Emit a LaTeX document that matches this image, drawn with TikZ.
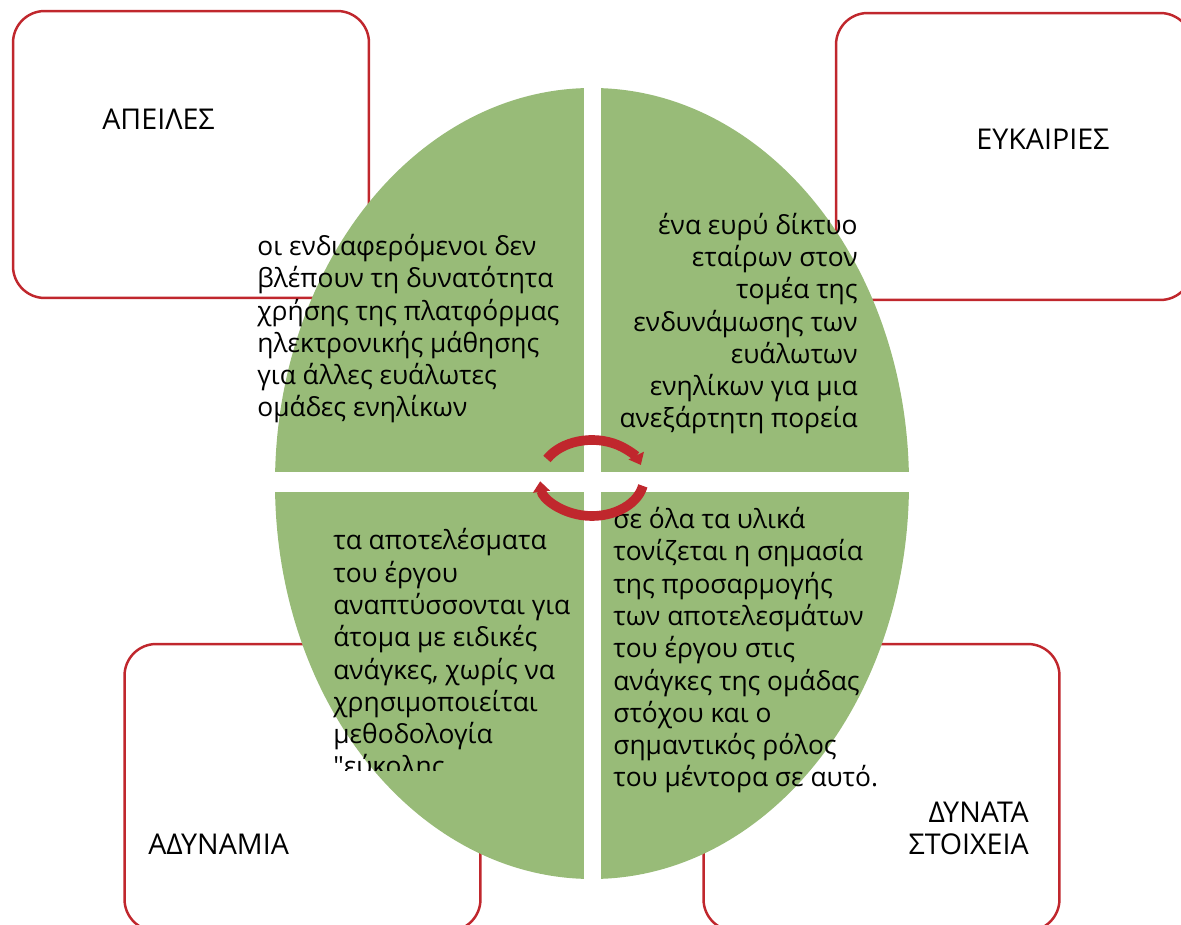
\documentclass[tikz,border=0pt]{standalone}
\usepackage{fontspec}
\setmainfont{Open Sans}
\usepackage{tikz}
\usetikzlibrary{arrows.meta}

\definecolor{swotred}{RGB}{192,39,45}
\definecolor{swotgreen}{RGB}{152,187,120}

\tikzset{
  swotbox/.style={draw=swotred, line width=1.4pt, rounded corners=18pt,
    minimum width=7.12cm, minimum height=5.74cm, inner sep=0pt},
  boxlabel/.style={font=\fontsize{16.3}{18.7}\selectfont, inner sep=0pt},
  quadtext/.style={font=\fontsize{15}{18.4}\selectfont, inner sep=0pt},
  cycarrow/.style={draw=swotred, line width=5.5pt, -{Triangle[length=6pt, width=9.5pt]}}
}

\begin{document}
\begin{tikzpicture}[x=0.02cm, y=-0.02cm]
          \useasboundingbox (0,0) rectangle (1181,925);
          \clip (0,0) rectangle (1181,925);
          % threats
          \node[swotbox] (thr) at (191,154.5) {};
          \node[boxlabel, anchor=base west] (thrlbl) at (102,130) {ΑΠΕΙΛΕΣ};
          % opportunities
          \node[swotbox] (opp) at (1014,156.5) {};
          \node[boxlabel, anchor=base west] (opplbl) at (976,150) {ΕΥΚΑΙΡΙΕΣ};
          % weaknesses
          \node[swotbox] (weak) at (302.5,787.5) {};
          \node[boxlabel, anchor=base west] (weaklbl) at (148,855) {ΑΔΥΝΑΜΙΑ};
          % strengths
          \node[swotbox] (str) at (881.5,787.5) {};
          \node[boxlabel, anchor=base east, align=right] (strlbl) at (1029,855) {ΔΥΝΑΤΑ\\ΣΤΟΙΧΕΙΑ};
          % green ellipse cut in four
          \fill[swotgreen] (592,483.5) ellipse [x radius=317, y radius=395.5];
          \fill[white] (584,80) rectangle (601,890);
          \fill[white] (260,472) rectangle (925,492);
          % quadrant texts
          \node[quadtext, anchor=base west, align=left] (thrtxt) at (257,417)
            {οι ενδιαφερόμενοι δεν\\βλέπουν τη δυνατότητα\\χρήσης της πλατφόρμας\\ηλεκτρονικής μάθησης\\για άλλες ευάλωτες\\ομάδες ενηλίκων};
          \node[quadtext, anchor=base east, align=right] (opptxt) at (858,428)
            {ένα ευρύ δίκτυο\\εταίρων στον\\τομέα της\\ενδυνάμωσης των\\ευάλωτων\\ενηλίκων για μια\\ανεξάρτητη πορεία};
          \begin{scope}
            \clip (300,500) rectangle (600,771);
            \node[quadtext, anchor=base west, align=left] (weaktxt) at (333,776)
              {τα αποτελέσματα\\του έργου\\αναπτύσσονται για\\άτομα με ειδικές\\ανάγκες, χωρίς να\\χρησιμοποιείται\\μεθοδολογία\\\textquotedbl εύκολης};
          \end{scope}
          \node[quadtext, anchor=base west, align=left] (strtxt) at (613,787)
            {σε όλα τα υλικά\\τονίζεται η σημασία\\της προσαρμογής\\των αποτελεσμάτων\\του έργου στις\\ανάγκες της ομάδας\\στόχου και ο\\σημαντικός ρόλος\\του μέντορα σε αυτό.};
          % cycle arrows in the middle
          \coordinate (cyc) at (592,478);
          \draw[cycarrow] ([shift={(210:52 and 38)}]cyc) arc [start angle=210, end angle=340, x radius=52, y radius=38];
          \draw[cycarrow] ([shift={(12:52 and 38)}]cyc) arc [start angle=12, end angle=175, x radius=52, y radius=38];
        \end{tikzpicture}
\end{document}
